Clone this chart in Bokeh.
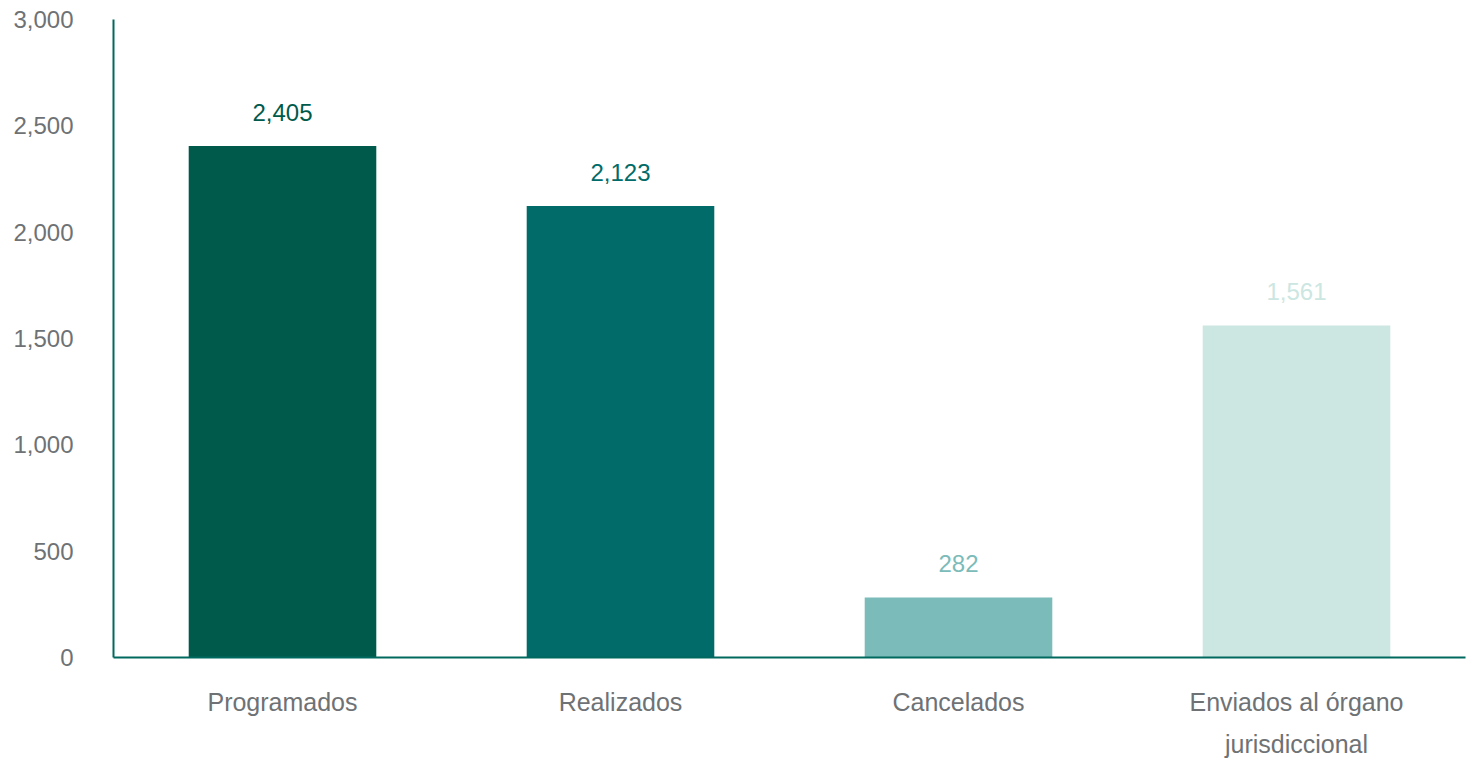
from bokeh.plotting import figure
from bokeh.models import (ColumnDataSource, Range1d, FactorRange, NumeralTickFormatter, FixedTicker,
                          CategoricalAxis, CustomJSTickFormatter)
from bokeh.embed import file_html
from bokeh.resources import INLINE
from bokeh.core.properties import value

categories = ["Programados", "Realizados", "Cancelados", "Enviados al órgano jurisdiccional"]
label_line1 = ["Programados", "Realizados", "Cancelados", "Enviados al órgano"]
label_line2 = ["", "", "", "jurisdiccional"]
values = [2405, 2123, 282, 1561]
colors = ["#005A4C", "#006B68", "#7BBBB9", "#CCE6E2"]
y_ticks = [0, 500, 1000, 1500, 2000, 2500, 3000]

labels = [f"{v:,}" for v in values]
source = ColumnDataSource(dict(cat=categories, val=values, color=colors, label=labels))

FONT = "Liberation Sans"
AXIS_COLOR = "#00695F"
TEXT_GRAY = "#6E7275"

p = figure(x_range=FactorRange(*categories, range_padding=0), y_range=Range1d(0, 3000),
           width=1473, height=760, output_backend="svg", toolbar_location=None,
           min_border_left=113, min_border_right=8, min_border_top=19, min_border_bottom=103)

p.vbar(x="cat", top="val", width=0.555, color="color", source=source, line_color=None)
p.text(x="cat", y="val", text="label", source=source, text_color="color",
       text_align="center", text_baseline="alphabetic", y_offset=-34,
       text_font=value(FONT), text_font_size="24px")

p.outline_line_color = None
p.xgrid.grid_line_color = None
p.ygrid.grid_line_color = None

p.yaxis.ticker = FixedTicker(ticks=y_ticks)
p.yaxis.formatter = NumeralTickFormatter(format="0,0")

code = "const i = factors.indexOf(tick); return i >= 0 ? names[i] : tick;"
p.xaxis[0].formatter = CustomJSTickFormatter(args=dict(factors=categories, names=label_line1), code=code)
x2 = CategoricalAxis(formatter=CustomJSTickFormatter(args=dict(factors=categories, names=label_line2), code=code))
p.add_layout(x2, "below")

for ax in (p.xaxis[0], p.yaxis[0], x2):
    ax.axis_line_color = AXIS_COLOR
    ax.axis_line_width = 2
    ax.major_tick_line_color = None
    ax.minor_tick_line_color = None
    ax.major_label_text_font = FONT
    ax.major_label_text_font_size = "24px"
    ax.major_label_text_color = TEXT_GRAY

x2.axis_line_color = None
p.xaxis[0].major_label_text_font_size = "25px"
x2.major_label_text_font_size = "25px"
p.xaxis[0].major_label_standoff = 24
x2.major_label_standoff = 5
p.yaxis.major_label_standoff = 34

open("out.html", "w").write(file_html(p, INLINE))
